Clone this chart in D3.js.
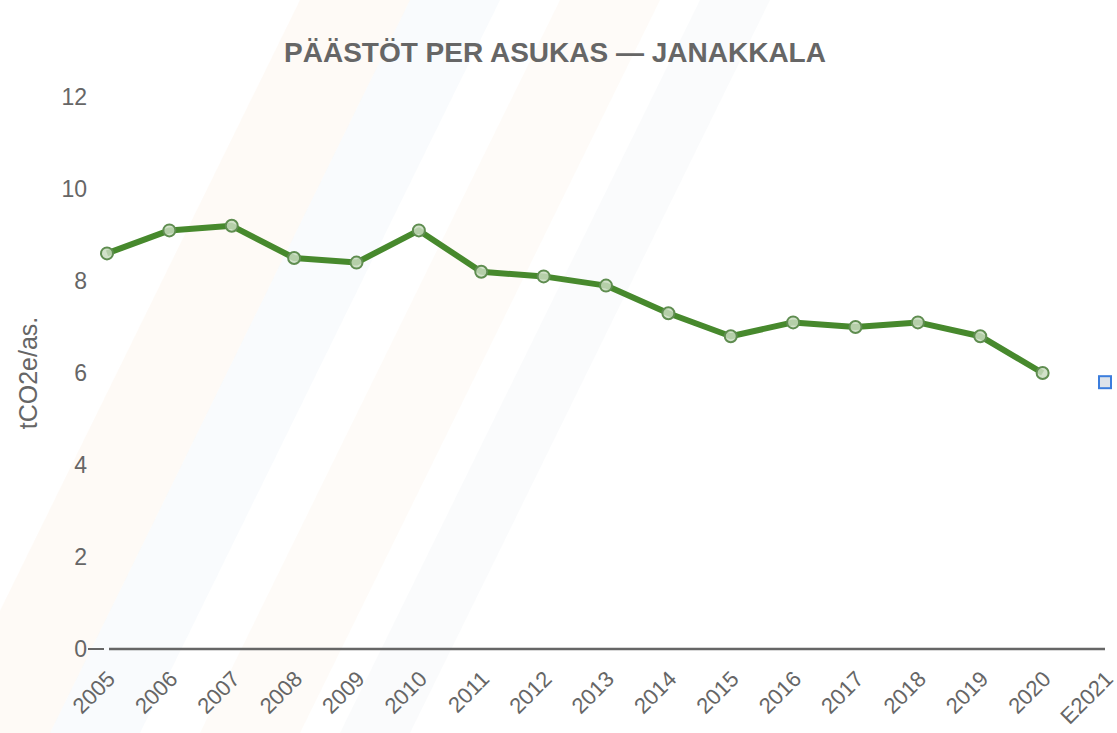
<!DOCTYPE html>
<html>
<head>
<meta charset="utf-8">
<script src="https://cdn.jsdelivr.net/npm/d3@7"></script>
<style>
  body { margin: 0; background: #fff; }
  text { font-family: "Liberation Sans", Arial, sans-serif; }
</style>
</head>
<body>
<div id="chart"></div>
<script>
var years = ["2005","2006","2007","2008","2009","2010","2011","2012","2013","2014","2015","2016","2017","2018","2019","2020","E2021"];
var emissions = [8.6, 9.1, 9.2, 8.5, 8.4, 9.1, 8.2, 8.1, 7.9, 7.3, 6.8, 7.1, 7.0, 7.1, 6.8, 6.0, null];
var estimate = [{year: "E2021", value: 5.8}];
var yTicks = [0, 2, 4, 6, 8, 10, 12];

var width = 1117,
    height = 733;

var svg = d3.select("#chart")
            .append("svg")
            .attr("width", width)
            .attr("height", height);

// very faint diagonal watermark bands
var bands = [
  {x0: 0, x1: 110, c: "#fbe9d4"},
  {x0: 110, x1: 200, c: "#e3ecf4"},
  {x0: 260, x1: 360, c: "#fbeedf"},
  {x0: 400, x1: 470, c: "#e9eef3"}
];
svg.selectAll("polygon.band")
   .data(bands)
   .enter().append("polygon")
   .attr("class", "band")
   .attr("points", function(d) {
     return [[d.x0 + 300, 0], [d.x1 + 300, 0], [d.x1 - 60, 733], [d.x0 - 60, 733]].join(" ");
   })
   .style("fill", function(d) { return d.c; })
   .style("opacity", 0.22);

var x = d3.scalePoint()
          .domain(years)
          .range([107, 1105]);

var y = d3.scaleLinear()
          .domain([0, 12])
          .range([649, 97]);

// title
svg.append("text")
   .attr("x", 555)
   .attr("y", 62)
   .attr("text-anchor", "middle")
   .style("font-size", "28px")
   .style("font-weight", "bold")
   .style("fill", "#666")
   .text("PÄÄSTÖT PER ASUKAS — JANAKKALA");

// y axis label
svg.append("text")
   .attr("transform", "translate(37,373) rotate(-90)")
   .attr("text-anchor", "middle")
   .style("font-size", "25px")
   .style("fill", "#666")
   .text("tCO2e/as.");

// y tick labels
svg.selectAll("text.ytick")
   .data(yTicks)
   .enter().append("text")
   .attr("class", "ytick")
   .attr("x", 87)
   .attr("y", function(d) { return y(d); })
   .attr("dy", ".35em")
   .attr("text-anchor", "end")
   .style("font-size", "23px")
   .style("fill", "#666")
   .text(function(d) { return d; });

// zero tick and x axis line
svg.append("line")
   .attr("x1", 88).attr("x2", 104)
   .attr("y1", y(0)).attr("y2", y(0))
   .style("stroke", "#666").style("stroke-width", 2);
svg.append("line")
   .attr("x1", 109).attr("x2", x("E2021"))
   .attr("y1", y(0)).attr("y2", y(0))
   .style("stroke", "#666").style("stroke-width", 2.5);

// x tick labels
svg.selectAll("text.xtick")
   .data(years)
   .enter().append("text")
   .attr("class", "xtick")
   .attr("transform", function(d) { return "translate(" + (x(d) + 4) + "," + (y(0) + 26) + ") rotate(-45)"; })
   .attr("dy", ".35em")
   .attr("text-anchor", "end")
   .style("font-size", "22px")
   .style("fill", "#666")
   .text(function(d) { return d; });

var points = years.map(function(d, i) { return {year: d, value: emissions[i]}; })
                  .filter(function(d) { return d.value !== null; });

var line = d3.line()
             .x(function(d) { return x(d.year); })
             .y(function(d) { return y(d.value); });

svg.append("path")
   .datum(points)
   .attr("d", line)
   .style("fill", "none")
   .style("stroke", "#47892d")
   .style("stroke-width", 6)
   .style("stroke-linejoin", "round");

svg.selectAll("circle.pt")
   .data(points)
   .enter().append("circle")
   .attr("class", "pt")
   .attr("cx", function(d) { return x(d.year); })
   .attr("cy", function(d) { return y(d.value); })
   .attr("r", 6)
   .style("fill", "#c9dcc0")
   .style("fill-opacity", 0.85)
   .style("stroke", "#5f8d50")
   .style("stroke-width", 2);

svg.selectAll("rect.est")
   .data(estimate)
   .enter().append("rect")
   .attr("class", "est")
   .attr("x", function(d) { return x(d.year) - 6; })
   .attr("y", function(d) { return y(d.value) - 6; })
   .attr("width", 12)
   .attr("height", 12)
   .style("fill", "#dde3ea")
   .style("stroke", "#3b7ddd")
   .style("stroke-width", 2);
</script>
</body>
</html>
